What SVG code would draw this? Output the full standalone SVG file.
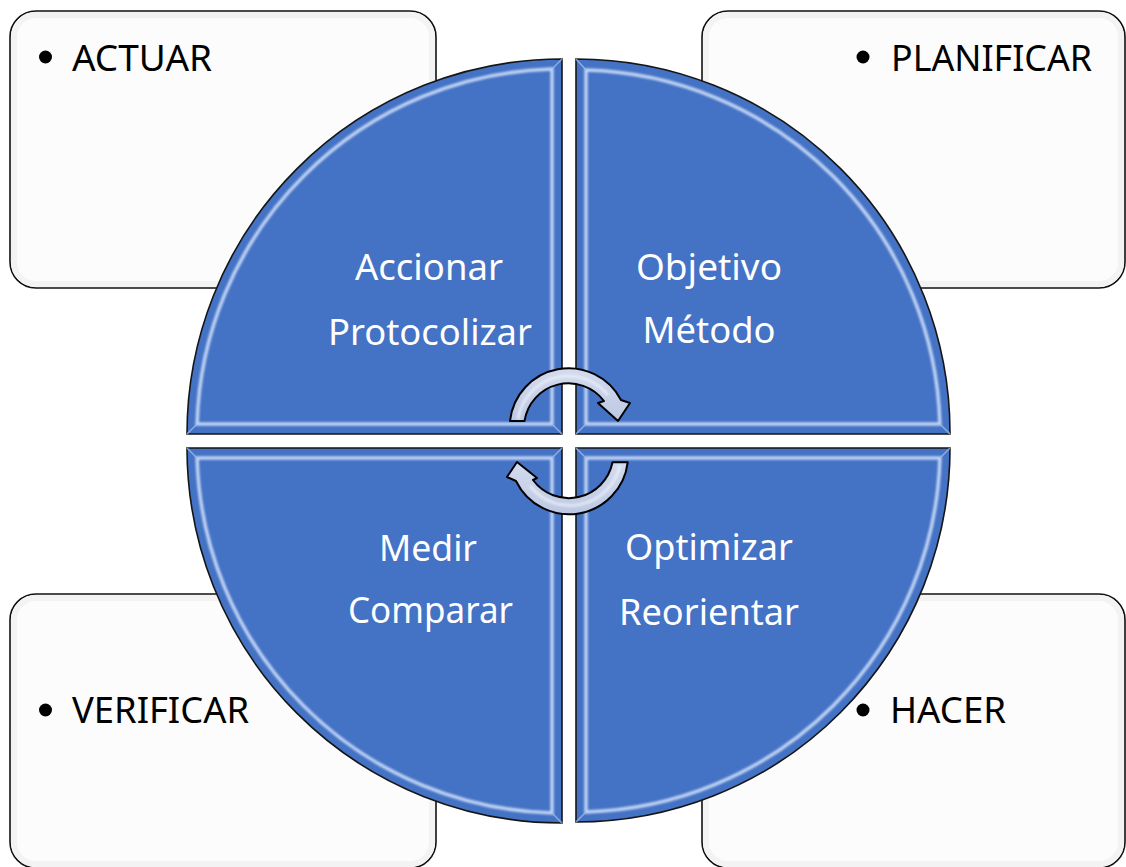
<svg xmlns="http://www.w3.org/2000/svg" width="1126" height="867" viewBox="0 0 1126 867">
<defs>
<style>
.box{fill:#fcfcfc;stroke:#111;stroke-width:1.6}
.boxin{fill:none;stroke:#f3f3f3;stroke-width:6}
.lbl{font-family:"Noto Sans","Open Sans",sans-serif;font-size:37px;fill:#000}
.wt{font-family:"Noto Sans","Open Sans",sans-serif;font-size:37px;fill:#fff;text-anchor:middle}
.q{fill:#4472c4;stroke:#151515;stroke-width:1.6}
.rim{fill:none;stroke:#d6e5fd;stroke-width:3.5;opacity:0.85;filter:url(#soft)}
.bev{stroke:#9fbcec;stroke-width:1.5;opacity:0.8}
.arw{fill:url(#ag);stroke:#000;stroke-width:2;stroke-linejoin:round}
.arwhl{fill:none;stroke:#eef2fa;stroke-width:3;opacity:0.7;filter:url(#soft)}
</style>
<filter id="soft" x="-10%" y="-10%" width="120%" height="120%"><feGaussianBlur stdDeviation="1"/></filter>
<linearGradient id="ag" x1="0" y1="0" x2="0" y2="1">
<stop offset="0" stop-color="#d3dbee"/>
<stop offset="1" stop-color="#bcc8e3"/>
</linearGradient>
</defs>

<g id="box-actuar">
<rect class="box" x="10" y="11" width="426" height="277" rx="26"/>
<rect class="boxin" x="14" y="15" width="418" height="269" rx="22"/>
<circle cx="45.5" cy="57" r="6.5"/>
<text class="lbl" x="72" y="71" textLength="140" lengthAdjust="spacingAndGlyphs">ACTUAR</text>
</g>
<g id="box-planificar">
<rect class="box" x="702" y="11" width="423" height="277" rx="26"/>
<rect class="boxin" x="706" y="15" width="415" height="269" rx="22"/>
<circle cx="863" cy="57" r="6.5"/>
<text class="lbl" x="891" y="71" textLength="201" lengthAdjust="spacingAndGlyphs">PLANIFICAR</text>
</g>
<g id="box-verificar">
<rect class="box" x="10" y="594" width="426" height="274" rx="26"/>
<rect class="boxin" x="14" y="598" width="418" height="266" rx="22"/>
<circle cx="45.5" cy="710" r="6.5"/>
<text class="lbl" x="72" y="723" textLength="177" lengthAdjust="spacingAndGlyphs">VERIFICAR</text>
</g>
<g id="box-hacer">
<rect class="box" x="702" y="594" width="423" height="274" rx="26"/>
<rect class="boxin" x="706" y="598" width="415" height="266" rx="22"/>
<circle cx="863" cy="710" r="6.5"/>
<text class="lbl" x="890" y="723" textLength="116" lengthAdjust="spacingAndGlyphs">HACER</text>
</g>

<g id="q-actuar">
<path class="q" d="M562 434 L187 434 A375 375 0 0 1 562 59 Z"/>
<path class="rim" d="M552 424 L197.1 424 A365 365 0 0 1 552 69.1 Z"/>
<line class="bev" x1="562" y1="434" x2="552" y2="424"/>
<line class="bev" x1="187" y1="434" x2="197" y2="424"/>
<line class="bev" x1="562" y1="59" x2="552" y2="69"/>
<text class="wt" x="429" y="280" textLength="148" lengthAdjust="spacingAndGlyphs">Accionar</text>
<text class="wt" x="430" y="345" textLength="204" lengthAdjust="spacingAndGlyphs">Protocolizar</text>
</g>
<g id="q-planificar">
<path class="q" d="M576 434 L576 59 A374 374 0 0 1 950 434 Z"/>
<path class="rim" d="M586 424 L586 70.1 A364 364 0 0 1 939.9 424 Z"/>
<line class="bev" x1="576" y1="434" x2="586" y2="424"/>
<line class="bev" x1="576" y1="59" x2="586" y2="70"/>
<line class="bev" x1="950" y1="434" x2="940" y2="424"/>
<text class="wt" x="709" y="280" textLength="146" lengthAdjust="spacingAndGlyphs">Objetivo</text>
<text class="wt" x="709" y="343" textLength="133" lengthAdjust="spacingAndGlyphs">Método</text>
</g>
<g id="q-verificar">
<path class="q" d="M562 448 L562 823 A375 375 0 0 1 187 448 Z"/>
<path class="rim" d="M552 458 L552 812.9 A365 365 0 0 1 197.1 458 Z"/>
<line class="bev" x1="562" y1="448" x2="552" y2="458"/>
<line class="bev" x1="187" y1="448" x2="197" y2="458"/>
<line class="bev" x1="562" y1="823" x2="552" y2="813"/>
<text class="wt" x="428" y="561" textLength="98" lengthAdjust="spacingAndGlyphs">Medir</text>
<text class="wt" x="430.5" y="623" textLength="165" lengthAdjust="spacingAndGlyphs">Comparar</text>
</g>
<g id="q-hacer">
<path class="q" d="M576 448 L950 448 A374 374 0 0 1 576 822 Z"/>
<path class="rim" d="M586 458 L939.9 458 A364 364 0 0 1 586 811.9 Z"/>
<line class="bev" x1="576" y1="448" x2="586" y2="458"/>
<line class="bev" x1="950" y1="448" x2="940" y2="458"/>
<line class="bev" x1="576" y1="822" x2="586" y2="812"/>
<text class="wt" x="709" y="560" textLength="168" lengthAdjust="spacingAndGlyphs">Optimizar</text>
<text class="wt" x="709" y="625" textLength="180" lengthAdjust="spacingAndGlyphs">Reorientar</text>
</g>

<g id="connectors">
<g id="arrow-top">
<path class="arw" d="M510 421 A59 59 0 0 1 621 400 L630 403 L618 421 L598 403 L604 401 A44.5 44.5 0 0 0 524.5 421 Z"/>
<path class="arwhl" d="M518 419 A51 51 0 0 1 608 395"/>
</g>
<g id="arrow-bottom">
<path class="arw" d="M627.7 462.3 A59 59 0 0 1 516 481 L507 477 L517 462 L537 478 L533 480 A44.5 44.5 0 0 0 612.5 462.3 Z"/>
<path class="arwhl" d="M620 465 A51 51 0 0 1 530 486"/>
</g>
</g>
</svg>
